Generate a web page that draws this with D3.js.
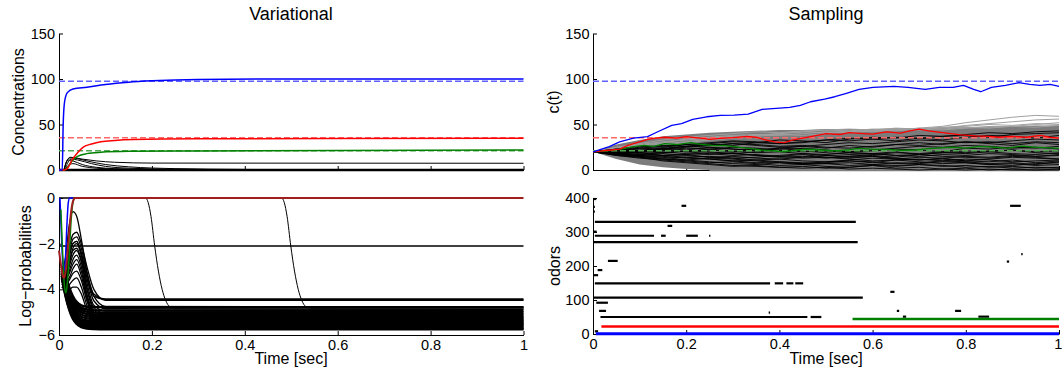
<!DOCTYPE html>
<html>
<head>
<meta charset="utf-8">
<script src="https://cdn.jsdelivr.net/npm/d3@7"></script>
<style>
  body { margin: 0; background: #fff; }
  svg { font-family: "Liberation Sans", Arial, Helvetica, sans-serif; }
  .axis text { font-size: 14.5px; fill: #000; }
  .axis path, .axis line { stroke: #000; stroke-width: 1; }
  .lbl { font-size: 16px; fill: #000; }
  .ttl { font-size: 18px; fill: #000; }
</style>
</head>
<body>
<svg id="chart" width="1062" height="373"></svg>
<script>
// ---- ticks ----
const timeTicks = [0, 0.2, 0.4, 0.6, 0.8, 1];
const concTicks = [0, 50, 100, 150];
const logpTicks = [-6, -4, -2, 0];
const odorTicks = [0, 100, 200, 300, 400];

// true concentrations (dashed): blue, red, green
const trueLevels = [97.5, 35.5, 21.2];

// ---- Variational: concentrations [t, c] ----
const varBlue = [[0,0],[0.007,0],[0.009,50],[0.012,75],[0.018,85],[0.03,89],[0.06,91],[0.1,94],[0.15,96.5],[0.2,98],[0.3,99.5],[0.5,100],[1,100]];
const varRed = [[0,0],[0.012,0],[0.02,3],[0.028,11],[0.04,19],[0.053,25.5],[0.07,28.5],[0.09,31],[0.12,32.5],[0.16,33.5],[0.3,34.3],[1,34.8]];
const varGreen = [[0,0],[0.012,0],[0.02,4],[0.028,10],[0.04,15],[0.06,18],[0.09,19.5],[0.15,20.5],[0.3,21],[1,22]];
const varBlack = [
  [[0,0],[0.01,0],[0.015,8],[0.022,13],[0.03,13.5],[0.05,12],[0.08,10],[0.12,8.5],[0.2,7.6],[1,7.4]],
  [[0,0],[0.01,0],[0.016,9],[0.024,14],[0.035,13],[0.06,10],[0.1,6],[0.15,3.5],[0.25,1.5],[0.4,0.6],[0.6,0.1],[1,0]],
  [[0,0],[0.012,0],[0.018,7],[0.026,12],[0.04,11],[0.07,7],[0.1,4],[0.15,2],[0.25,0.8],[0.5,0.1],[1,0]],
  [[0,0],[0.01,0],[0.014,6],[0.02,11],[0.03,10],[0.05,6],[0.08,3],[0.12,1.5],[0.2,0.5],[0.35,0],[1,0]],
  [[0,0],[0.012,0],[0.02,5],[0.03,7],[0.05,4],[0.08,2],[0.15,0.5],[0.3,0],[1,0]]
];
const varZero = [[0,0],[1,0]];

// ---- Variational: log-probabilities ----
const lpTimes = [0.006, 0.014, 0.022, 0.03, 0.038, 0.048, 0.06, 0.075, 0.1, 1];
const lpPeaked = [
  [-3.4,-2.6,-1.2,-0.6,-0.8,-1.8,-3.2,-4.2,-4.42,-4.42],
  [-3.4,-3.0,-2.2,-1.6,-1.5,-2.0,-3.0,-4.0,-4.48,-4.48],
  [-3.5,-3.2,-2.5,-2.0,-1.9,-2.5,-3.5,-4.3,-4.45,-4.45],
  [-3.4,-3.1,-2.4,-1.8,-1.7,-2.2,-3.3,-4.3,-4.75,-4.78],
  [-3.5,-3.2,-2.6,-2.0,-1.9,-2.4,-3.5,-4.5,-4.85,-4.88],
  [-3.5,-3.3,-2.8,-2.2,-2.0,-2.5,-3.7,-4.7,-4.95,-4.98],
  [-3.6,-3.4,-2.9,-2.3,-2.2,-2.7,-3.9,-4.8,-5.05,-5.08],
  [-3.6,-3.5,-3.0,-2.5,-2.3,-2.8,-4.0,-4.9,-5.15,-5.18],
  [-3.7,-3.6,-3.2,-2.7,-2.5,-3.0,-4.2,-5.0,-5.22,-5.25],
  [-3.7,-3.6,-3.3,-2.9,-2.7,-3.2,-4.3,-5.1,-5.3,-5.32],
  [-3.8,-3.7,-3.5,-3.1,-2.9,-3.4,-4.4,-5.1,-5.36,-5.38],
  [-3.8,-3.8,-3.6,-3.3,-3.2,-3.6,-4.5,-5.2,-5.42,-5.44],
  [-3.9,-3.9,-3.8,-3.6,-3.5,-3.9,-4.7,-5.3,-5.48,-5.5],
  [-3.9,-4.0,-4.0,-3.9,-3.9,-4.2,-4.9,-5.35,-5.53,-5.55]
];
const lpDecay = [
  [-3.0,-3.4,-3.9,-4.3,-4.55,-4.7,-4.76,-4.78,-4.78,-4.78],
  [-3.0,-3.4,-4.0,-4.4,-4.65,-4.8,-4.88,-4.92,-4.93,-4.93],
  [-3.0,-3.5,-4.1,-4.5,-4.75,-4.9,-4.98,-5.02,-5.03,-5.03],
  [-3.1,-3.6,-4.2,-4.6,-4.85,-5.0,-5.08,-5.12,-5.13,-5.13],
  [-3.1,-3.7,-4.3,-4.7,-4.95,-5.1,-5.18,-5.21,-5.22,-5.22],
  [-3.2,-3.8,-4.4,-4.8,-5.05,-5.2,-5.27,-5.3,-5.31,-5.31],
  [-3.2,-3.9,-4.5,-4.9,-5.15,-5.3,-5.36,-5.39,-5.4,-5.4],
  [-3.2,-3.95,-4.55,-4.95,-5.2,-5.35,-5.42,-5.45,-5.46,-5.46],
  [-3.3,-4.0,-4.6,-5.0,-5.25,-5.42,-5.5,-5.52,-5.53,-5.53],
  [-3.3,-4.05,-4.65,-5.05,-5.3,-5.48,-5.55,-5.58,-5.59,-5.59],
  [-3.3,-4.1,-4.7,-5.1,-5.35,-5.52,-5.6,-5.63,-5.64,-5.64],
  [-3.4,-4.2,-4.8,-5.2,-5.42,-5.58,-5.65,-5.68,-5.69,-5.69],
  [-3.4,-4.25,-4.85,-5.25,-5.48,-5.62,-5.69,-5.72,-5.73,-5.73],
  [-3.5,-4.3,-4.9,-5.3,-5.52,-5.66,-5.72,-5.74,-5.75,-5.75]
];
const lpSwitch = [
  [[0,0],[0.186,0],[0.192,-0.2],[0.198,-0.8],[0.206,-2.1],[0.214,-3.2],[0.222,-4.0],[0.23,-4.5],[0.238,-4.75],[0.25,-4.82],[1,-4.82]],
  [[0,0],[0.479,0],[0.485,-0.2],[0.491,-0.8],[0.499,-2.1],[0.507,-3.2],[0.515,-4.0],[0.523,-4.5],[0.531,-4.75],[0.543,-4.82],[1,-4.82]]
];
const lpFlat = [[0,-2.1],[1,-2.1]];
const lpBlue = [[0.002,0],[0.005,-1.5],[0.008,-2.8],[0.011,-3.2],[0.014,-2.6],[0.017,-1.2],[0.02,-0.2],[0.023,0],[0.03,0]];
const lpGreen = [[0.004,-0.5],[0.008,-2.5],[0.012,-3.9],[0.015,-4.15],[0.018,-3.7],[0.022,-2.5],[0.026,-1.0],[0.03,-0.2],[0.034,0],[0.04,0]];
const lpRed = [[0,-2.3],[0.004,-2.9],[0.008,-3.4],[0.011,-3.5],[0.015,-3.1],[0.02,-2.0],[0.025,-0.8],[0.03,-0.15],[0.035,0],[1,0]];

// ---- Sampling: c(t) ----
const sTimes = [0,0.05,0.1,0.15,0.2,0.25,0.3,0.35,0.4,0.45,0.5,0.55,0.6,0.65,0.7,0.75,0.8,0.85,0.9,0.95,1];
const sGrayUpper = [20,28,33,37,39,41,42,43,44,44,45,45,45,46,46,47,47,48,48,49,49];
const sGrayLower = [20,12,6,3,1,0,0,0,0,0,0,0,0,0,0,0,0,0,0,0,0];
const sGrayLines = [
  [20,24,28,31,33,35,37,38,40,42,41,43,42,44,46,48,52,55,58,60,59],
  [20,23,27,30,34,36,38,39,38,40,42,41,43,45,44,46,49,51,53,55,56],
  [20,25,29,33,36,38,40,42,41,43,44,45,44,43,45,44,46,47,48,50,52],
  [20,24,26,29,31,34,36,37,39,38,40,42,44,46,45,47,48,50,49,51,50],
  [20,22,25,28,30,33,35,38,40,42,44,43,45,44,46,45,47,46,48,47,49]
];
const sBlackLines = [
  [20,18,16,15,13,12,10,11,9,8,7,8,6,5,6,4,5,3,4,2,3],
  [20,22,24,23,26,28,27,30,29,31,33,32,34,36,35,37,38,36,39,40,41],
  [20,19,21,20,18,17,19,16,15,17,14,13,15,12,11,13,10,9,11,8,10],
  [20,23,21,24,22,25,23,21,24,26,24,27,25,28,30,28,31,29,27,30,28],
  [20,17,15,12,10,8,9,7,5,6,4,3,5,2,3,1,2,0,1,0,1],
  [20,21,19,22,20,23,25,24,22,20,21,19,18,20,17,19,21,20,22,19,18],
  [20,18,19,16,17,14,15,13,12,14,16,15,17,19,18,20,19,21,22,20,21],
  [20,22,25,27,26,29,31,30,33,32,30,34,36,35,38,37,39,41,40,42,43],
  [20,19,17,18,16,14,13,11,12,10,9,11,13,12,14,13,15,14,16,15,17],
  [20,21,23,22,20,18,16,17,15,13,14,12,10,11,9,7,8,6,7,5,6],
  [20,18,20,22,24,23,21,19,20,18,16,14,15,13,11,12,10,12,14,13,12],
  [20,22,21,23,25,27,29,28,26,27,25,24,26,28,27,29,31,30,32,34,33],
  [20,17,16,14,11,9,7,6,8,7,9,10,8,11,12,10,9,7,8,6,9],
  [20,19,21,24,26,25,23,22,24,23,21,20,22,24,26,25,27,26,24,25,23],
  [20,21,18,16,17,19,18,20,22,21,19,17,18,16,15,17,16,18,17,15,16],
  [20,18,17,19,21,20,18,16,14,15,13,15,16,14,17,19,18,20,18,17,19],
  [20,23,26,25,28,30,32,31,29,30,33,35,34,32,35,33,36,38,37,35,38],
  [20,16,13,11,9,7,5,4,3,2,3,1,2,1,0,1,0,1,0,0,0],
  [20,17,14,10,8,6,4,5,3,4,2,3,5,4,6,5,3,4,2,3,2],
  [20,19,15,13,14,12,10,8,9,7,8,10,9,7,8,10,12,11,9,10,11],
  [20,22,20,19,21,22,20,23,21,24,22,20,21,23,22,20,24,23,25,24,26],
  [20,18,15,16,14,15,13,14,16,18,17,19,18,16,17,15,14,13,15,14,12],
  [20,21,24,26,28,27,29,27,25,26,28,30,29,31,33,32,30,31,29,31,30],
  [20,16,14,12,11,13,12,10,8,6,7,5,6,8,7,9,8,6,5,7,8]
];
const sZero = [[0.25,0],[1,0]];
const sBlue = [[0,20],[0.035,25.6],[0.057,31],[0.087,35],[0.117,36.6],[0.139,42],[0.169,49],[0.19,51],[0.214,55.6],[0.244,58.5],[0.273,60],[0.303,60.4],[0.333,61.5],[0.363,66.6],[0.393,67.7],[0.422,68.8],[0.445,71],[0.467,75],[0.497,78],[0.519,80.5],[0.542,84],[0.571,88.5],[0.601,90.7],[0.646,92],[0.676,90.7],[0.713,88.5],[0.743,90.7],[0.773,90.7],[0.795,93],[0.817,88.5],[0.832,86],[0.855,90.7],[0.885,93],[0.914,96],[0.937,94],[0.959,93],[0.981,94],[1,92]];
const sRed = [[0,20],[0.02,21],[0.04,22],[0.057,23],[0.075,27],[0.087,29],[0.1,31],[0.117,33.7],[0.135,35],[0.154,36],[0.18,35],[0.2,36.6],[0.23,35],[0.25,33.7],[0.28,35],[0.3,35.5],[0.33,37],[0.35,36],[0.37,33],[0.39,31],[0.41,30],[0.43,33],[0.45,35],[0.47,37],[0.5,40],[0.53,39],[0.55,41],[0.58,40],[0.6,39.5],[0.63,42],[0.66,40.6],[0.68,43],[0.7,45],[0.72,43],[0.75,41],[0.79,38.5],[0.82,37.5],[0.85,37],[0.87,36],[0.9,37],[0.93,36],[0.96,38],[0.98,36],[1,35]];
const sGreen = [[0,20],[0.03,21],[0.06,23],[0.087,25.6],[0.11,27],[0.13,26],[0.154,29],[0.18,28],[0.21,30],[0.235,28],[0.26,26.7],[0.28,27],[0.303,25.6],[0.33,24],[0.36,22],[0.39,21],[0.41,20],[0.44,22],[0.46,23],[0.49,22],[0.52,21],[0.55,22.5],[0.57,23.8],[0.6,23],[0.63,22.7],[0.66,21.5],[0.69,22],[0.72,23.5],[0.77,25],[0.8,24],[0.83,26],[0.86,25],[0.89,24],[0.92,26.3],[0.95,25],[0.97,24.5],[1,23.8]];

// ---- Sampling: odor raster [odor, tStart, tEnd] ----
const rasterBlack = [
  [50,0.016,0.46],[50,0.467,0.49],[107,0,0.579],[149,0.004,0.38],[149,0.39,0.408],[149,0.415,0.43],[149,0.434,0.451],
  [215,0.032,0.053],[270,0,0.568],[289,0.004,0.131],[289,0.146,0.156],[289,0.2,0.225],[289,0.249,0.252],
  [330,0.004,0.564],[318,0.16,0.17],[377,0.19,0.2],
  [397,0,0.007],[374,0,0.004],[360,0,0.004],[301,0,0.008],[188,0.01,0.02],[173,0,0.011],[92,0.007,0.032],[68,0.013,0.028],[8,0.004,0.011],
  [377,0.895,0.918],[235,0.919,0.922],[213,0.888,0.893],[124,0.638,0.647],[68,0.652,0.657],[68,0.777,0.79],[51,0.827,0.85],[51,0.665,0.672],[63,0.377,0.38]
];
const rasterBlue = [[1,0.006,1]];
const rasterRed = [[22,0.018,1]];
const rasterGreen = [[44,0.557,1]];

// ---- layout ----
const svg = d3.select('#chart');
const xL = d3.scaleLinear().domain([0, 1]).range([59, 523.5]);
const xR = d3.scaleLinear().domain([0, 1]).range([593, 1059]);
const yConc = d3.scaleLinear().domain([0, 150]).range([170, 33.5]);
const yLogp = d3.scaleLinear().domain([-6, 0]).range([335, 198]);
const yOdor = d3.scaleLinear().domain([0, 400]).range([334, 198]);

const numFmt = (d) => String(d).replace('-', '\u2212');

function drawAxes(x, y, yTicks, xLabels, yPad) {
  const gx = svg.append('g')
     .attr('class', 'axis')
     .attr('transform', `translate(0, ${y.range()[0]})`)
     .call(d3.axisBottom(x).tickValues(timeTicks)
             .tickSizeInner(-4).tickSizeOuter(0).tickPadding(5)
             .tickFormat(xLabels ? numFmt : () => ''));
  svg.append('g')
     .attr('class', 'axis')
     .attr('transform', `translate(${x.range()[0]}, 0)`)
     .call(d3.axisLeft(y).tickValues(yTicks)
             .tickSizeInner(-4).tickSizeOuter(0).tickPadding(yPad)
             .tickFormat(numFmt));
  return gx;
}

function plotLines(x, y, series, color, width, curve) {
  const line = d3.line()
                 .x((d) => x(d[0]))
                 .y((d) => y(d[1]))
                 .curve(curve || d3.curveMonotoneX);
  return svg.append('g')
     .selectAll('path')
     .data(series)
     .enter()
     .append('path')
     .attr('d', line)
     .attr('fill', 'none')
     .attr('stroke', color)
     .attr('stroke-width', width)
     .attr('stroke-linejoin', 'round');
}

function dashed(x, y, level, color) {
  plotLines(x, y, [[[0, level], [1, level]]], color, 1.4, d3.curveLinear)
    .attr('stroke-dasharray', '6,3');
}

const withTimes = (times) => (vals) => vals.map((v, i) => [times[i], v]);
const dashColors = ['#6060ff', '#ff6868', '#50a850'];

// ---- Variational / concentrations ----
drawAxes(xL, yConc, concTicks, false, 4);
plotLines(xL, yConc, [varZero], '#000', 2.5, d3.curveLinear);
plotLines(xL, yConc, varBlack, '#000', 1);
trueLevels.forEach((lv, i) => dashed(xL, yConc, lv, dashColors[i]));
plotLines(xL, yConc, [varGreen], '#008000', 1.5);
plotLines(xL, yConc, [varRed], '#ff0000', 1.5);
plotLines(xL, yConc, [varBlue], '#0000ff', 1.5);

// ---- Variational / log-probabilities ----
drawAxes(xL, yLogp, logpTicks, true, 4);
plotLines(xL, yLogp, lpDecay.map(withTimes(lpTimes)), '#000', 2.4);
plotLines(xL, yLogp, lpPeaked.map(withTimes(lpTimes)), '#000', 1.3);
plotLines(xL, yLogp, [lpFlat], '#000', 1.6, d3.curveLinear);
plotLines(xL, yLogp, lpSwitch, '#000', 1);
plotLines(xL, yLogp, [lpBlue], '#0000ff', 1.5);
plotLines(xL, yLogp, [lpGreen], '#008000', 1.5);
plotLines(xL, yLogp, [lpRed], '#a01e1e', 2);

// ---- Sampling / c(t) ----
drawAxes(xR, yConc, concTicks, false, 3.5);
const band = d3.area()
               .x((d, i) => xR(sTimes[i]))
               .y0((d, i) => yConc(sGrayLower[i]))
               .y1((d) => yConc(d))
               .curve(d3.curveLinear);
svg.append('path')
   .datum(sGrayUpper)
   .attr('d', band)
   .attr('fill', '#7c7c7c');
plotLines(xR, yConc, [sZero], '#808080', 2.5, d3.curveLinear);
plotLines(xR, yConc, sGrayLines.map(withTimes(sTimes)), '#a0a0a0', 1, d3.curveLinear);
plotLines(xR, yConc, sBlackLines.map(withTimes(sTimes)), '#000', 0.9, d3.curveLinear);
trueLevels.forEach((lv, i) => dashed(xR, yConc, lv, dashColors[i]));
plotLines(xR, yConc, [sGreen], '#008000', 1.3, d3.curveLinear);
plotLines(xR, yConc, [sRed], '#ff0000', 1.3, d3.curveLinear);
plotLines(xR, yConc, [sBlue], '#0000ff', 1.3, d3.curveLinear);

// ---- Sampling / odors ----
const gxOdor = drawAxes(xR, yOdor, odorTicks, true, 3.5);
gxOdor.selectAll('.tick')
      .filter((d) => d === 1)
      .select('text')
      .attr('text-anchor', 'end')
      .attr('dx', '0.2em');
function raster(rows, color, width) {
  svg.append('g')
     .selectAll('line')
     .data(rows)
     .enter()
     .append('line')
     .attr('x1', (d) => xR(d[1]))
     .attr('x2', (d) => xR(d[2]))
     .attr('y1', (d) => yOdor(d[0]))
     .attr('y2', (d) => yOdor(d[0]))
     .attr('stroke', color)
     .attr('stroke-width', width);
}
raster(rasterBlack, '#000', 2.2);
raster(rasterGreen, '#008000', 2.5);
raster(rasterRed, '#ff0000', 2.5);
raster(rasterBlue, '#0000ff', 3);

// ---- text ----
svg.append('text').attr('class', 'ttl').attr('x', 291).attr('y', 20).attr('text-anchor', 'middle').text('Variational');
svg.append('text').attr('class', 'ttl').attr('x', 826).attr('y', 20).attr('text-anchor', 'middle').text('Sampling');
svg.append('text').attr('class', 'lbl').attr('x', 291).attr('y', 364).attr('text-anchor', 'middle').text('Time [sec]');
svg.append('text').attr('class', 'lbl').attr('x', 826).attr('y', 364).attr('text-anchor', 'middle').text('Time [sec]');

const yLabel = (txt, x, y) => svg.append('text')
  .attr('class', 'lbl')
  .attr('text-anchor', 'middle')
  .attr('transform', `translate(${x}, ${y}) rotate(-90)`)
  .text(txt);
yLabel('Concentrations', 24, 102);
yLabel('Log\u2212probabilities', 31, 266);
yLabel('c(t)', 559, 102);
yLabel('odors', 560, 266);
</script>
</body>
</html>
